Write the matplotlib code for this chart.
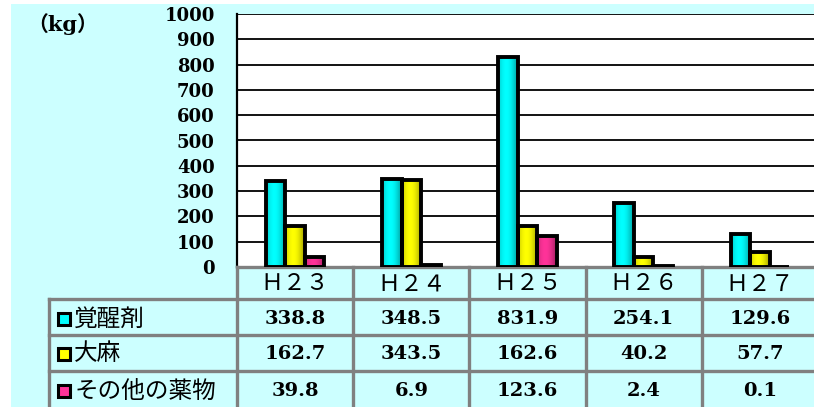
import numpy as np
import matplotlib.pyplot as plt
from matplotlib.colors import to_rgb

years = ['Ｈ２３', 'Ｈ２４', 'Ｈ２５', 'Ｈ２６', 'Ｈ２７']
drugs = ['覚醒剤', '大麻', 'その他の薬物']
stimulants = [338.8, 348.5, 831.9, 254.1, 129.6]
cannabis = [162.7, 343.5, 162.6, 40.2, 57.7]
others = [39.8, 6.9, 123.6, 2.4, 0.1]
series = [stimulants, cannabis, others]
colors = ['#00FFFF', '#FFFF00', '#FF3399']
yticks = list(range(0, 1001, 100))

W, H = 814, 407
bg = '#CCFFFF'
grid_gray = '#808080'
cjk = ['Noto Sans CJK JP', 'DejaVu Sans']
serif = ['DejaVu Serif', 'Noto Sans CJK JP']

fig = plt.figure(figsize=(W / 100, H / 100), dpi=100)
fig.patch.set_facecolor('white')
fig.patches.append(plt.Rectangle((11 / W, 0), 1, 1 - 4 / H, transform=fig.transFigure,
                                 facecolor=bg, edgecolor='none', zorder=-5))

# ---- bar chart ----
ax = fig.add_axes([237 / W, 1 - 267 / H, 581 / W, 253 / H])
ax.set_facecolor('white')
x = np.arange(len(years))
bw = 0.168
for k, (vals, c) in enumerate(zip(series, colors)):
    pos = x + (k - 1) * bw
    bars = ax.bar(pos, vals, bw, color=c, edgecolor='none', zorder=3)
    base = np.array(to_rgb(c))
    t = np.linspace(0, 1, 40)
    shade = 0.62 + 0.38 * np.sin(np.pi * (0.15 + 0.85 * t))
    grad = np.clip(base[None, :] * shade[:, None], 0, 1)[None, :, :]
    for b in bars:
        x0, w, h = b.get_x(), b.get_width(), b.get_height()
        im = ax.imshow(grad, extent=[x0, x0 + w, 0, h], aspect='auto', zorder=3.5,
                       interpolation='bilinear')
        im.set_clip_path(b)
    ax.bar(pos, vals, bw, fill=False, edgecolor='black', linewidth=2.8, zorder=4)

ax.set_xlim(-0.5, 4.5)
ax.set_ylim(0, 1000)
ax.set_yticks(yticks)
ax.set_yticklabels([str(v) for v in yticks], family=serif, fontsize=13, fontweight='bold')
ax.tick_params(axis='y', length=0, pad=16)
ax.set_xticks([])
ax.yaxis.grid(True, color='black', linewidth=1.3)
ax.set_axisbelow(True)
for s in ['top', 'right']:
    ax.spines[s].set_visible(False)
ax.spines['left'].set_color('black')
ax.spines['left'].set_linewidth(1.6)
ax.spines['bottom'].set_color(grid_gray)
ax.spines['bottom'].set_linewidth(2.4)

fig.text(27 / W, 1 - 24 / H, '（kg）', family=serif, fontsize=15, fontweight='bold',
         va='center', ha='left')

# ---- data table ----
tab = fig.add_axes([237 / W, 0, 581 / W, 140 / H])
tab.set_xlim(-0.5, 4.5)
tab.set_ylim(140, 0)
tab.axis('off')
left = -0.5 - 188 / 116
row_edges = [0, 32, 68, 104, 140]
row_mid = [17, 52, 87, 124]

for xv in np.arange(-0.5, 5.0, 1.0):
    tab.plot([xv, xv], [0, 140], color=grid_gray, lw=2.4, clip_on=False)
tab.plot([left, left], [32, 140], color=grid_gray, lw=2.4, clip_on=False)
for yv in row_edges[1:4]:
    tab.plot([left, 4.5], [yv, yv], color=grid_gray, lw=2.4, clip_on=False)

for i, yr in enumerate(years):
    tab.text(i, row_mid[0], yr, family=cjk, fontsize=16.5, ha='center', va='center')

for r, (name, vals, c) in enumerate(zip(drugs, series, colors)):
    ym = row_mid[r + 1]
    tab.plot([left + 0.13], [ym], marker='s', ms=8.5, mfc=c, mec='black', mew=2.2,
             clip_on=False)
    tab.text(left + 0.22, ym, name, family=cjk, fontsize=17, ha='left', va='center')
    for i, v in enumerate(vals):
        tab.text(i, ym, f'{v:.1f}', family=serif, fontsize=14, fontweight='bold',
                 ha='center', va='center')

fig.savefig('out.png', dpi=100, facecolor=fig.get_facecolor())
